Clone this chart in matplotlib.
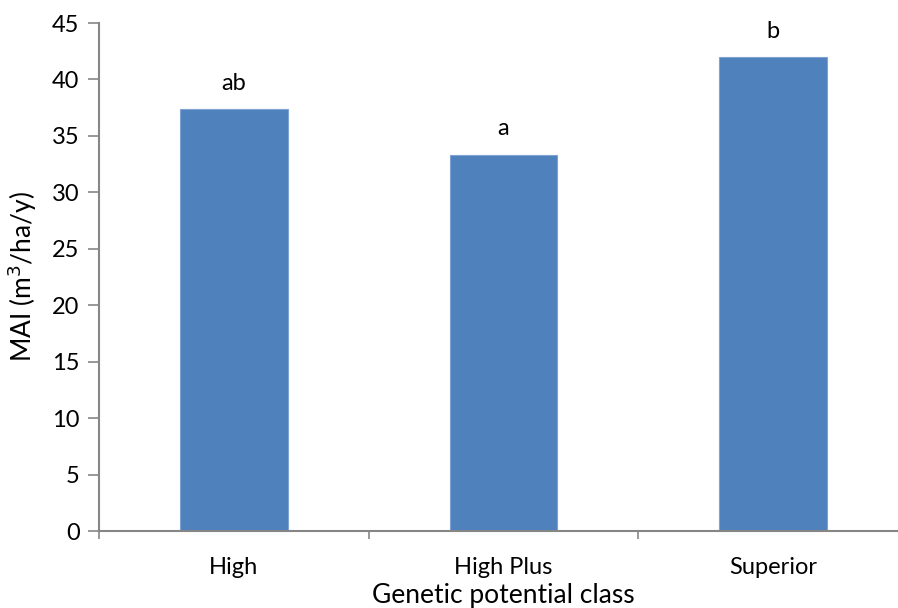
import matplotlib.pyplot as plt

# MAI by genetic potential class, with significance letters
classes = ['High', 'High Plus', 'Superior']
mai = [37.35, 33.35, 41.95]
letters = ['ab', 'a', 'b']
y_ticks = [0, 5, 10, 15, 20, 25, 30, 35, 40, 45]

plt.rcParams['font.family'] = ['Lato', 'DejaVu Sans']

fig = plt.figure(figsize=(8.98, 6.08), dpi=100)
# axes runs a little past the right edge of the figure
ax = fig.add_axes([99 / 898, (608 - 531) / 608, 809 / 898, 508 / 608])

x = range(len(classes))
bars = ax.bar(x, mai, width=0.40, color='#4F81BD', edgecolor='#7FA3D3',
              linewidth=0.8, zorder=2)

for xi, val, lab in zip(x, mai, letters):
    ax.annotate(lab, (xi, val), xytext=(0, 11), textcoords='offset points',
                ha='center', va='bottom', fontsize=17, color='black')

ax.set_xlim(-0.5, 2.5)
ax.set_ylim(0, 45)
ax.set_yticks(y_ticks)
ax.set_xticks([-0.5, 0.5, 1.5, 2.5], minor=False)
ax.set_xticklabels([])
ax.set_xticks(list(x), minor=True)
ax.set_xticklabels(classes, minor=True)

ax.tick_params(axis='x', which='major', direction='out', length=6,
               width=1.2, color='#868686')
ax.tick_params(axis='x', which='minor', length=0, pad=19, labelsize=17)
ax.tick_params(axis='y', direction='out', length=8, width=1.2,
               color='#868686', labelsize=17, pad=6)

for side in ['top', 'right']:
    ax.spines[side].set_visible(False)
for side in ['left', 'bottom']:
    ax.spines[side].set_color('#868686')
    ax.spines[side].set_linewidth(1.5)

ax.set_ylabel('MAI (m$^3$/ha/y)', fontsize=19, labelpad=9)
ax.set_xlabel('Genetic potential class', fontsize=19, labelpad=3)

fig.savefig('out.png', dpi=100)
